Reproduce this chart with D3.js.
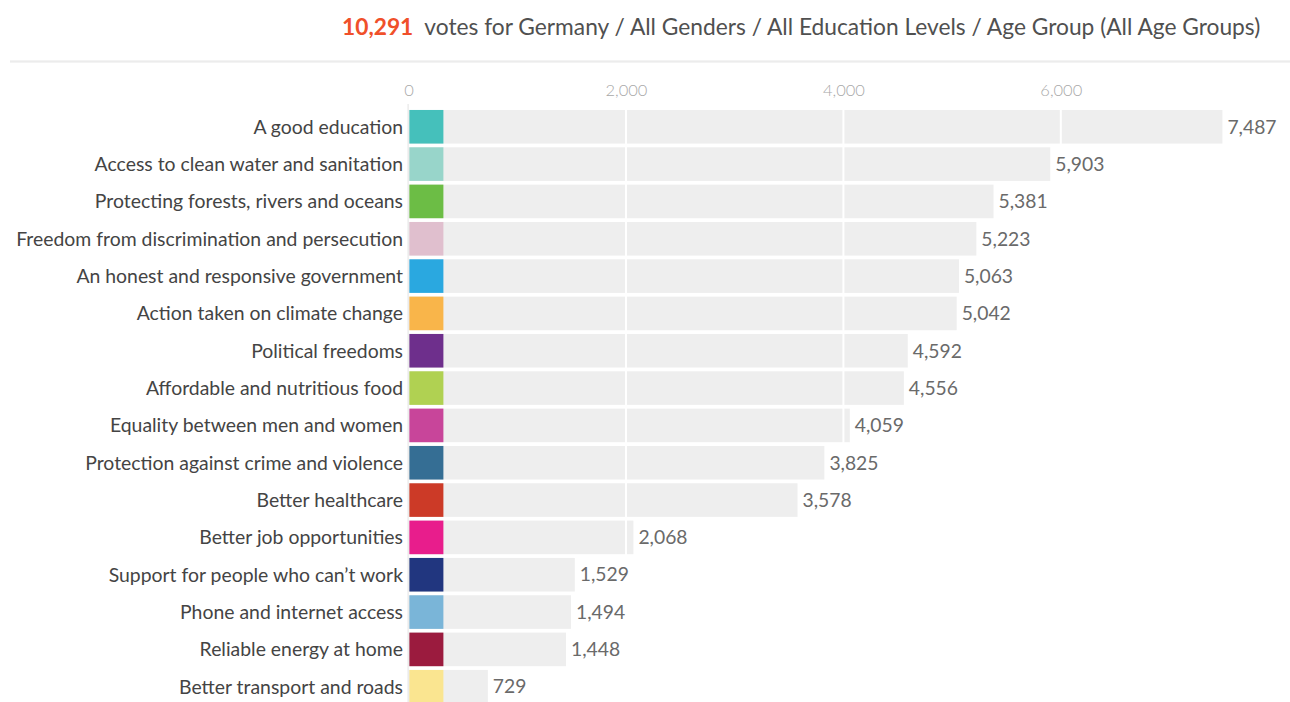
<!DOCTYPE html>
<html>
<head>
<meta charset="utf-8">
<script src="https://cdn.jsdelivr.net/npm/d3@7"></script>
<style>
html,body{margin:0;padding:0;background:#fff;}
svg{display:block;font-family:Lato,"Open Sans",sans-serif;}
</style>
</head>
<body>
<svg id="chart" width="1290" height="702"></svg>
<script>
const categories = [
  "A good education",
  "Access to clean water and sanitation",
  "Protecting forests, rivers and oceans",
  "Freedom from discrimination and persecution",
  "An honest and responsive government",
  "Action taken on climate change",
  "Political freedoms",
  "Affordable and nutritious food",
  "Equality between men and women",
  "Protection against crime and violence",
  "Better healthcare",
  "Better job opportunities",
  "Support for people who can\u2019t work",
  "Phone and internet access",
  "Reliable energy at home",
  "Better transport and roads"
];
const votes = [7487, 5903, 5381, 5223, 5063, 5042, 4592, 4556, 4059, 3825, 3578, 2068, 1529, 1494, 1448, 729];
const colors = ["#45c0bb","#98d5ca","#6cbd45","#e0bfce","#2aa8e0","#f9b54a","#6e2f8c","#b0d152",
                "#c8459a","#356e94","#cc3a27","#e81d8c","#21367f","#7ab5d8","#9b1b3e","#fae590"];
const tickValues = [0, 2000, 4000, 6000];
const totalVotes = 10291;
const titleText = "votes for Germany / All Genders / All Education Levels / Age Group (All Age Groups)";

const svg = d3.select("#chart");
const fmt = d3.format(",");

const x = d3.scaleLinear().domain([0, 8000]).range([408.6, 1278.2]);
const y = d3.scaleBand().domain(categories).range([108.1, 705.4]).paddingInner(0.1).paddingOuter(0.05);

// title
const title = svg.append("text").attr("x", 342).attr("y", 35).attr("font-size", 22.75);
title.append("tspan").attr("fill", "#f0502a").attr("font-weight", 700).text(fmt(totalVotes));
title.append("tspan").attr("fill", "#505050").attr("dx", 11).text(titleText);

// separator
svg.append("rect").attr("x", 10).attr("y", 60).attr("width", 1280).attr("height", 3).attr("fill", "#f3f3f3");
svg.append("line").attr("x1", 10).attr("x2", 1290).attr("y1", 61.5).attr("y2", 61.5).attr("stroke", "#ececec").attr("stroke-width", 1);

// axis ticks
const axis = d3.axisTop(x).tickValues(tickValues).tickFormat(fmt).tickSize(0).tickPadding(0);
const gAxis = svg.append("g").attr("transform", "translate(0,96)").call(axis);
gAxis.select(".domain").remove();
gAxis.selectAll("text").attr("fill", "#a8a8a8").attr("font-size", 16.5).attr("font-family", "Lato, sans-serif").attr("font-weight", 300);

// grey bars
svg.append("g").selectAll("rect").data(categories).join("rect")
  .attr("x", x(0))
  .attr("y", d => y(d))
  .attr("width", (d, i) => x(votes[i]) - x(0))
  .attr("height", y.bandwidth())
  .attr("fill", "#eeeeee");

// white gridlines
svg.append("g").selectAll("line").data(tickValues.slice(1)).join("line")
  .attr("x1", d => x(d)).attr("x2", d => x(d))
  .attr("y1", 105).attr("y2", 702)
  .attr("stroke", "#ffffff").attr("stroke-width", 2);

// colour squares
svg.append("g").selectAll("rect").data(categories).join("rect")
  .attr("x", x(0) + 0.8)
  .attr("y", d => y(d))
  .attr("width", 34)
  .attr("height", y.bandwidth())
  .attr("fill", (d, i) => colors[i]);

// axis line
svg.append("line").attr("x1", x(0) - 0.5).attr("x2", x(0) - 0.5).attr("y1", 104).attr("y2", 702)
  .attr("stroke", "#e2e2e2").attr("stroke-width", 1);

// category labels
svg.append("g").selectAll("text").data(categories).join("text")
  .attr("x", 403)
  .attr("y", d => y(d) + y.bandwidth() / 2)
  .attr("dy", "0.35em")
  .attr("text-anchor", "end")
  .attr("font-size", 19.4)
  .attr("fill", "#444")
  .text(d => d);

// value labels
svg.append("g").selectAll("text").data(categories).join("text")
  .attr("x", (d, i) => x(votes[i]) + 5)
  .attr("y", d => y(d) + y.bandwidth() / 2)
  .attr("dy", "0.35em")
  .attr("font-size", 19.3)
  .attr("fill", "#6a6a6a")
  .text((d, i) => fmt(votes[i]));
</script>
</body>
</html>
